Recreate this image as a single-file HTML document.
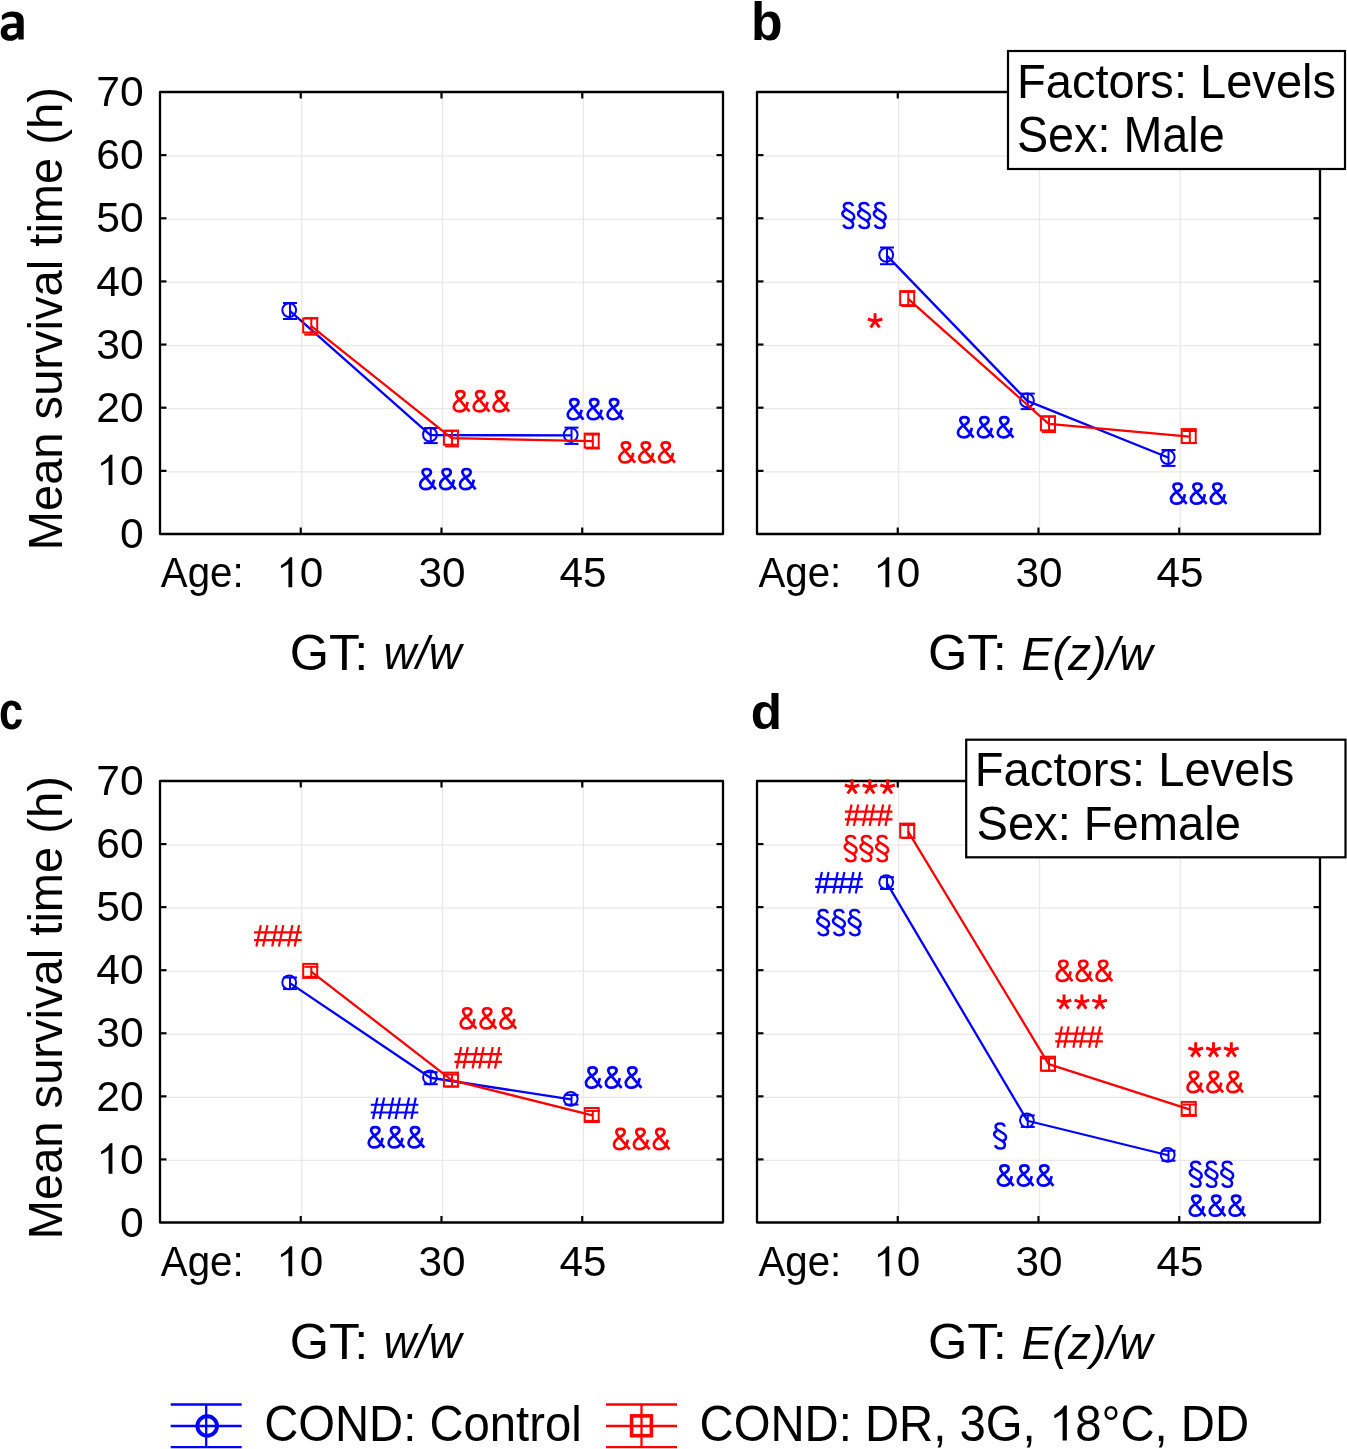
<!DOCTYPE html>
<html><head><meta charset="utf-8"><style>
html,body{margin:0;padding:0;background:#fff;}
svg{display:block;will-change:transform;}
text{font-family:"Liberation Sans", sans-serif;}
</style></head><body>
<svg width="1347" height="1449" viewBox="0 0 1347 1449">
<rect width="1347" height="1449" fill="#fff"/>
<line x1="301.75" y1="93.00" x2="301.75" y2="527.00" stroke="#e8e8e8" stroke-width="1.3" stroke-linecap="butt"/>
<line x1="442.50" y1="93.00" x2="442.50" y2="527.00" stroke="#e8e8e8" stroke-width="1.3" stroke-linecap="butt"/>
<line x1="583.25" y1="93.00" x2="583.25" y2="527.00" stroke="#e8e8e8" stroke-width="1.3" stroke-linecap="butt"/>
<line x1="167.00" y1="471.86" x2="716.00" y2="471.86" stroke="#e8e8e8" stroke-width="1.3" stroke-linecap="butt"/>
<line x1="167.00" y1="408.71" x2="716.00" y2="408.71" stroke="#e8e8e8" stroke-width="1.3" stroke-linecap="butt"/>
<line x1="167.00" y1="345.57" x2="716.00" y2="345.57" stroke="#e8e8e8" stroke-width="1.3" stroke-linecap="butt"/>
<line x1="167.00" y1="282.43" x2="716.00" y2="282.43" stroke="#e8e8e8" stroke-width="1.3" stroke-linecap="butt"/>
<line x1="167.00" y1="219.29" x2="716.00" y2="219.29" stroke="#e8e8e8" stroke-width="1.3" stroke-linecap="butt"/>
<line x1="167.00" y1="156.14" x2="716.00" y2="156.14" stroke="#e8e8e8" stroke-width="1.3" stroke-linecap="butt"/>
<line x1="300.75" y1="534.00" x2="300.75" y2="527.50" stroke="#000" stroke-width="2.2" stroke-linecap="butt"/>
<line x1="300.75" y1="92.00" x2="300.75" y2="98.50" stroke="#000" stroke-width="2.2" stroke-linecap="butt"/>
<line x1="441.50" y1="534.00" x2="441.50" y2="527.50" stroke="#000" stroke-width="2.2" stroke-linecap="butt"/>
<line x1="441.50" y1="92.00" x2="441.50" y2="98.50" stroke="#000" stroke-width="2.2" stroke-linecap="butt"/>
<line x1="582.25" y1="534.00" x2="582.25" y2="527.50" stroke="#000" stroke-width="2.2" stroke-linecap="butt"/>
<line x1="582.25" y1="92.00" x2="582.25" y2="98.50" stroke="#000" stroke-width="2.2" stroke-linecap="butt"/>
<line x1="160.00" y1="470.86" x2="166.50" y2="470.86" stroke="#000" stroke-width="2.2" stroke-linecap="butt"/>
<line x1="723.00" y1="470.86" x2="716.50" y2="470.86" stroke="#000" stroke-width="2.2" stroke-linecap="butt"/>
<line x1="160.00" y1="407.71" x2="166.50" y2="407.71" stroke="#000" stroke-width="2.2" stroke-linecap="butt"/>
<line x1="723.00" y1="407.71" x2="716.50" y2="407.71" stroke="#000" stroke-width="2.2" stroke-linecap="butt"/>
<line x1="160.00" y1="344.57" x2="166.50" y2="344.57" stroke="#000" stroke-width="2.2" stroke-linecap="butt"/>
<line x1="723.00" y1="344.57" x2="716.50" y2="344.57" stroke="#000" stroke-width="2.2" stroke-linecap="butt"/>
<line x1="160.00" y1="281.43" x2="166.50" y2="281.43" stroke="#000" stroke-width="2.2" stroke-linecap="butt"/>
<line x1="723.00" y1="281.43" x2="716.50" y2="281.43" stroke="#000" stroke-width="2.2" stroke-linecap="butt"/>
<line x1="160.00" y1="218.29" x2="166.50" y2="218.29" stroke="#000" stroke-width="2.2" stroke-linecap="butt"/>
<line x1="723.00" y1="218.29" x2="716.50" y2="218.29" stroke="#000" stroke-width="2.2" stroke-linecap="butt"/>
<line x1="160.00" y1="155.14" x2="166.50" y2="155.14" stroke="#000" stroke-width="2.2" stroke-linecap="butt"/>
<line x1="723.00" y1="155.14" x2="716.50" y2="155.14" stroke="#000" stroke-width="2.2" stroke-linecap="butt"/>
<rect x="160" y="92" width="563" height="442" fill="none" stroke="#000" stroke-width="2.3" stroke-linejoin="round"/>
<text transform="translate(119.96,548.20) scale(1.0000,1.0000)" font-size="42.60" fill="#000">0</text>
<g transform="translate(96.32,485.06) scale(1.0000,1.0000)" fill="#000"><path transform="translate(0.00,0) scale(42.600)" d="M0.378 -0.712 L0.378 0 L0.288 0 L0.288 -0.556 C0.250 -0.525 0.198 -0.492 0.130 -0.458 L0.112 -0.462 L0.112 -0.522 C0.186 -0.559 0.265 -0.619 0.323 -0.712 Z"/><text x="23.69" y="0" font-size="42.60">0</text></g>
<text transform="translate(96.32,421.91) scale(1.0000,1.0000)" font-size="42.60" fill="#000">20</text>
<text transform="translate(96.32,358.77) scale(1.0000,1.0000)" font-size="42.60" fill="#000">30</text>
<text transform="translate(96.32,295.63) scale(1.0000,1.0000)" font-size="42.60" fill="#000">40</text>
<text transform="translate(96.32,232.49) scale(1.0000,1.0000)" font-size="42.60" fill="#000">50</text>
<text transform="translate(96.32,169.34) scale(1.0000,1.0000)" font-size="42.60" fill="#000">60</text>
<text transform="translate(96.32,106.20) scale(1.0000,1.0000)" font-size="42.60" fill="#000">70</text>
<text transform="translate(160.80,586.61) scale(0.9509,1.0000)" font-size="42.33" fill="#000">Age:</text>
<g transform="translate(276.25,587.30) scale(1.0000,1.0000)" fill="#000"><path transform="translate(0.00,0) scale(42.300)" d="M0.378 -0.712 L0.378 0 L0.288 0 L0.288 -0.556 C0.250 -0.525 0.198 -0.492 0.130 -0.458 L0.112 -0.462 L0.112 -0.522 C0.186 -0.559 0.265 -0.619 0.323 -0.712 Z"/><text x="23.53" y="0" font-size="42.30">0</text></g>
<text transform="translate(418.52,587.30) scale(1.0000,1.0000)" font-size="42.30" fill="#000">30</text>
<text transform="translate(559.59,587.30) scale(1.0000,1.0000)" font-size="42.30" fill="#000">45</text>
<line x1="898.75" y1="93.00" x2="898.75" y2="527.00" stroke="#e8e8e8" stroke-width="1.3" stroke-linecap="butt"/>
<line x1="1039.50" y1="93.00" x2="1039.50" y2="527.00" stroke="#e8e8e8" stroke-width="1.3" stroke-linecap="butt"/>
<line x1="1180.25" y1="93.00" x2="1180.25" y2="527.00" stroke="#e8e8e8" stroke-width="1.3" stroke-linecap="butt"/>
<line x1="764.00" y1="471.86" x2="1313.00" y2="471.86" stroke="#e8e8e8" stroke-width="1.3" stroke-linecap="butt"/>
<line x1="764.00" y1="408.71" x2="1313.00" y2="408.71" stroke="#e8e8e8" stroke-width="1.3" stroke-linecap="butt"/>
<line x1="764.00" y1="345.57" x2="1313.00" y2="345.57" stroke="#e8e8e8" stroke-width="1.3" stroke-linecap="butt"/>
<line x1="764.00" y1="282.43" x2="1313.00" y2="282.43" stroke="#e8e8e8" stroke-width="1.3" stroke-linecap="butt"/>
<line x1="764.00" y1="219.29" x2="1313.00" y2="219.29" stroke="#e8e8e8" stroke-width="1.3" stroke-linecap="butt"/>
<line x1="764.00" y1="156.14" x2="1313.00" y2="156.14" stroke="#e8e8e8" stroke-width="1.3" stroke-linecap="butt"/>
<line x1="897.75" y1="534.00" x2="897.75" y2="527.50" stroke="#000" stroke-width="2.2" stroke-linecap="butt"/>
<line x1="897.75" y1="92.00" x2="897.75" y2="98.50" stroke="#000" stroke-width="2.2" stroke-linecap="butt"/>
<line x1="1038.50" y1="534.00" x2="1038.50" y2="527.50" stroke="#000" stroke-width="2.2" stroke-linecap="butt"/>
<line x1="1038.50" y1="92.00" x2="1038.50" y2="98.50" stroke="#000" stroke-width="2.2" stroke-linecap="butt"/>
<line x1="1179.25" y1="534.00" x2="1179.25" y2="527.50" stroke="#000" stroke-width="2.2" stroke-linecap="butt"/>
<line x1="1179.25" y1="92.00" x2="1179.25" y2="98.50" stroke="#000" stroke-width="2.2" stroke-linecap="butt"/>
<line x1="757.00" y1="470.86" x2="763.50" y2="470.86" stroke="#000" stroke-width="2.2" stroke-linecap="butt"/>
<line x1="1320.00" y1="470.86" x2="1313.50" y2="470.86" stroke="#000" stroke-width="2.2" stroke-linecap="butt"/>
<line x1="757.00" y1="407.71" x2="763.50" y2="407.71" stroke="#000" stroke-width="2.2" stroke-linecap="butt"/>
<line x1="1320.00" y1="407.71" x2="1313.50" y2="407.71" stroke="#000" stroke-width="2.2" stroke-linecap="butt"/>
<line x1="757.00" y1="344.57" x2="763.50" y2="344.57" stroke="#000" stroke-width="2.2" stroke-linecap="butt"/>
<line x1="1320.00" y1="344.57" x2="1313.50" y2="344.57" stroke="#000" stroke-width="2.2" stroke-linecap="butt"/>
<line x1="757.00" y1="281.43" x2="763.50" y2="281.43" stroke="#000" stroke-width="2.2" stroke-linecap="butt"/>
<line x1="1320.00" y1="281.43" x2="1313.50" y2="281.43" stroke="#000" stroke-width="2.2" stroke-linecap="butt"/>
<line x1="757.00" y1="218.29" x2="763.50" y2="218.29" stroke="#000" stroke-width="2.2" stroke-linecap="butt"/>
<line x1="1320.00" y1="218.29" x2="1313.50" y2="218.29" stroke="#000" stroke-width="2.2" stroke-linecap="butt"/>
<line x1="757.00" y1="155.14" x2="763.50" y2="155.14" stroke="#000" stroke-width="2.2" stroke-linecap="butt"/>
<line x1="1320.00" y1="155.14" x2="1313.50" y2="155.14" stroke="#000" stroke-width="2.2" stroke-linecap="butt"/>
<rect x="757" y="92" width="563" height="442" fill="none" stroke="#000" stroke-width="2.3" stroke-linejoin="round"/>
<text transform="translate(758.40,586.61) scale(0.9509,1.0000)" font-size="42.33" fill="#000">Age:</text>
<g transform="translate(873.25,587.30) scale(1.0000,1.0000)" fill="#000"><path transform="translate(0.00,0) scale(42.300)" d="M0.378 -0.712 L0.378 0 L0.288 0 L0.288 -0.556 C0.250 -0.525 0.198 -0.492 0.130 -0.458 L0.112 -0.462 L0.112 -0.522 C0.186 -0.559 0.265 -0.619 0.323 -0.712 Z"/><text x="23.53" y="0" font-size="42.30">0</text></g>
<text transform="translate(1015.52,587.30) scale(1.0000,1.0000)" font-size="42.30" fill="#000">30</text>
<text transform="translate(1156.59,587.30) scale(1.0000,1.0000)" font-size="42.30" fill="#000">45</text>
<line x1="301.75" y1="782.00" x2="301.75" y2="1215.50" stroke="#e8e8e8" stroke-width="1.3" stroke-linecap="butt"/>
<line x1="442.50" y1="782.00" x2="442.50" y2="1215.50" stroke="#e8e8e8" stroke-width="1.3" stroke-linecap="butt"/>
<line x1="583.25" y1="782.00" x2="583.25" y2="1215.50" stroke="#e8e8e8" stroke-width="1.3" stroke-linecap="butt"/>
<line x1="167.00" y1="1160.43" x2="716.00" y2="1160.43" stroke="#e8e8e8" stroke-width="1.3" stroke-linecap="butt"/>
<line x1="167.00" y1="1097.36" x2="716.00" y2="1097.36" stroke="#e8e8e8" stroke-width="1.3" stroke-linecap="butt"/>
<line x1="167.00" y1="1034.29" x2="716.00" y2="1034.29" stroke="#e8e8e8" stroke-width="1.3" stroke-linecap="butt"/>
<line x1="167.00" y1="971.21" x2="716.00" y2="971.21" stroke="#e8e8e8" stroke-width="1.3" stroke-linecap="butt"/>
<line x1="167.00" y1="908.14" x2="716.00" y2="908.14" stroke="#e8e8e8" stroke-width="1.3" stroke-linecap="butt"/>
<line x1="167.00" y1="845.07" x2="716.00" y2="845.07" stroke="#e8e8e8" stroke-width="1.3" stroke-linecap="butt"/>
<line x1="300.75" y1="1222.50" x2="300.75" y2="1216.00" stroke="#000" stroke-width="2.2" stroke-linecap="butt"/>
<line x1="300.75" y1="781.00" x2="300.75" y2="787.50" stroke="#000" stroke-width="2.2" stroke-linecap="butt"/>
<line x1="441.50" y1="1222.50" x2="441.50" y2="1216.00" stroke="#000" stroke-width="2.2" stroke-linecap="butt"/>
<line x1="441.50" y1="781.00" x2="441.50" y2="787.50" stroke="#000" stroke-width="2.2" stroke-linecap="butt"/>
<line x1="582.25" y1="1222.50" x2="582.25" y2="1216.00" stroke="#000" stroke-width="2.2" stroke-linecap="butt"/>
<line x1="582.25" y1="781.00" x2="582.25" y2="787.50" stroke="#000" stroke-width="2.2" stroke-linecap="butt"/>
<line x1="160.00" y1="1159.43" x2="166.50" y2="1159.43" stroke="#000" stroke-width="2.2" stroke-linecap="butt"/>
<line x1="723.00" y1="1159.43" x2="716.50" y2="1159.43" stroke="#000" stroke-width="2.2" stroke-linecap="butt"/>
<line x1="160.00" y1="1096.36" x2="166.50" y2="1096.36" stroke="#000" stroke-width="2.2" stroke-linecap="butt"/>
<line x1="723.00" y1="1096.36" x2="716.50" y2="1096.36" stroke="#000" stroke-width="2.2" stroke-linecap="butt"/>
<line x1="160.00" y1="1033.29" x2="166.50" y2="1033.29" stroke="#000" stroke-width="2.2" stroke-linecap="butt"/>
<line x1="723.00" y1="1033.29" x2="716.50" y2="1033.29" stroke="#000" stroke-width="2.2" stroke-linecap="butt"/>
<line x1="160.00" y1="970.21" x2="166.50" y2="970.21" stroke="#000" stroke-width="2.2" stroke-linecap="butt"/>
<line x1="723.00" y1="970.21" x2="716.50" y2="970.21" stroke="#000" stroke-width="2.2" stroke-linecap="butt"/>
<line x1="160.00" y1="907.14" x2="166.50" y2="907.14" stroke="#000" stroke-width="2.2" stroke-linecap="butt"/>
<line x1="723.00" y1="907.14" x2="716.50" y2="907.14" stroke="#000" stroke-width="2.2" stroke-linecap="butt"/>
<line x1="160.00" y1="844.07" x2="166.50" y2="844.07" stroke="#000" stroke-width="2.2" stroke-linecap="butt"/>
<line x1="723.00" y1="844.07" x2="716.50" y2="844.07" stroke="#000" stroke-width="2.2" stroke-linecap="butt"/>
<rect x="160" y="781" width="563" height="441.5" fill="none" stroke="#000" stroke-width="2.3" stroke-linejoin="round"/>
<text transform="translate(119.96,1236.70) scale(1.0000,1.0000)" font-size="42.60" fill="#000">0</text>
<g transform="translate(96.32,1173.63) scale(1.0000,1.0000)" fill="#000"><path transform="translate(0.00,0) scale(42.600)" d="M0.378 -0.712 L0.378 0 L0.288 0 L0.288 -0.556 C0.250 -0.525 0.198 -0.492 0.130 -0.458 L0.112 -0.462 L0.112 -0.522 C0.186 -0.559 0.265 -0.619 0.323 -0.712 Z"/><text x="23.69" y="0" font-size="42.60">0</text></g>
<text transform="translate(96.32,1110.56) scale(1.0000,1.0000)" font-size="42.60" fill="#000">20</text>
<text transform="translate(96.32,1047.49) scale(1.0000,1.0000)" font-size="42.60" fill="#000">30</text>
<text transform="translate(96.32,984.41) scale(1.0000,1.0000)" font-size="42.60" fill="#000">40</text>
<text transform="translate(96.32,921.34) scale(1.0000,1.0000)" font-size="42.60" fill="#000">50</text>
<text transform="translate(96.32,858.27) scale(1.0000,1.0000)" font-size="42.60" fill="#000">60</text>
<text transform="translate(96.32,795.20) scale(1.0000,1.0000)" font-size="42.60" fill="#000">70</text>
<text transform="translate(160.80,1275.61) scale(0.9509,1.0000)" font-size="42.33" fill="#000">Age:</text>
<g transform="translate(276.25,1276.30) scale(1.0000,1.0000)" fill="#000"><path transform="translate(0.00,0) scale(42.300)" d="M0.378 -0.712 L0.378 0 L0.288 0 L0.288 -0.556 C0.250 -0.525 0.198 -0.492 0.130 -0.458 L0.112 -0.462 L0.112 -0.522 C0.186 -0.559 0.265 -0.619 0.323 -0.712 Z"/><text x="23.53" y="0" font-size="42.30">0</text></g>
<text transform="translate(418.52,1276.30) scale(1.0000,1.0000)" font-size="42.30" fill="#000">30</text>
<text transform="translate(559.59,1276.30) scale(1.0000,1.0000)" font-size="42.30" fill="#000">45</text>
<line x1="898.75" y1="782.00" x2="898.75" y2="1215.50" stroke="#e8e8e8" stroke-width="1.3" stroke-linecap="butt"/>
<line x1="1039.50" y1="782.00" x2="1039.50" y2="1215.50" stroke="#e8e8e8" stroke-width="1.3" stroke-linecap="butt"/>
<line x1="1180.25" y1="782.00" x2="1180.25" y2="1215.50" stroke="#e8e8e8" stroke-width="1.3" stroke-linecap="butt"/>
<line x1="764.00" y1="1160.43" x2="1313.00" y2="1160.43" stroke="#e8e8e8" stroke-width="1.3" stroke-linecap="butt"/>
<line x1="764.00" y1="1097.36" x2="1313.00" y2="1097.36" stroke="#e8e8e8" stroke-width="1.3" stroke-linecap="butt"/>
<line x1="764.00" y1="1034.29" x2="1313.00" y2="1034.29" stroke="#e8e8e8" stroke-width="1.3" stroke-linecap="butt"/>
<line x1="764.00" y1="971.21" x2="1313.00" y2="971.21" stroke="#e8e8e8" stroke-width="1.3" stroke-linecap="butt"/>
<line x1="764.00" y1="908.14" x2="1313.00" y2="908.14" stroke="#e8e8e8" stroke-width="1.3" stroke-linecap="butt"/>
<line x1="764.00" y1="845.07" x2="1313.00" y2="845.07" stroke="#e8e8e8" stroke-width="1.3" stroke-linecap="butt"/>
<line x1="897.75" y1="1222.50" x2="897.75" y2="1216.00" stroke="#000" stroke-width="2.2" stroke-linecap="butt"/>
<line x1="897.75" y1="781.00" x2="897.75" y2="787.50" stroke="#000" stroke-width="2.2" stroke-linecap="butt"/>
<line x1="1038.50" y1="1222.50" x2="1038.50" y2="1216.00" stroke="#000" stroke-width="2.2" stroke-linecap="butt"/>
<line x1="1038.50" y1="781.00" x2="1038.50" y2="787.50" stroke="#000" stroke-width="2.2" stroke-linecap="butt"/>
<line x1="1179.25" y1="1222.50" x2="1179.25" y2="1216.00" stroke="#000" stroke-width="2.2" stroke-linecap="butt"/>
<line x1="1179.25" y1="781.00" x2="1179.25" y2="787.50" stroke="#000" stroke-width="2.2" stroke-linecap="butt"/>
<line x1="757.00" y1="1159.43" x2="763.50" y2="1159.43" stroke="#000" stroke-width="2.2" stroke-linecap="butt"/>
<line x1="1320.00" y1="1159.43" x2="1313.50" y2="1159.43" stroke="#000" stroke-width="2.2" stroke-linecap="butt"/>
<line x1="757.00" y1="1096.36" x2="763.50" y2="1096.36" stroke="#000" stroke-width="2.2" stroke-linecap="butt"/>
<line x1="1320.00" y1="1096.36" x2="1313.50" y2="1096.36" stroke="#000" stroke-width="2.2" stroke-linecap="butt"/>
<line x1="757.00" y1="1033.29" x2="763.50" y2="1033.29" stroke="#000" stroke-width="2.2" stroke-linecap="butt"/>
<line x1="1320.00" y1="1033.29" x2="1313.50" y2="1033.29" stroke="#000" stroke-width="2.2" stroke-linecap="butt"/>
<line x1="757.00" y1="970.21" x2="763.50" y2="970.21" stroke="#000" stroke-width="2.2" stroke-linecap="butt"/>
<line x1="1320.00" y1="970.21" x2="1313.50" y2="970.21" stroke="#000" stroke-width="2.2" stroke-linecap="butt"/>
<line x1="757.00" y1="907.14" x2="763.50" y2="907.14" stroke="#000" stroke-width="2.2" stroke-linecap="butt"/>
<line x1="1320.00" y1="907.14" x2="1313.50" y2="907.14" stroke="#000" stroke-width="2.2" stroke-linecap="butt"/>
<line x1="757.00" y1="844.07" x2="763.50" y2="844.07" stroke="#000" stroke-width="2.2" stroke-linecap="butt"/>
<line x1="1320.00" y1="844.07" x2="1313.50" y2="844.07" stroke="#000" stroke-width="2.2" stroke-linecap="butt"/>
<rect x="757" y="781" width="563" height="441.5" fill="none" stroke="#000" stroke-width="2.3" stroke-linejoin="round"/>
<text transform="translate(758.40,1275.61) scale(0.9509,1.0000)" font-size="42.33" fill="#000">Age:</text>
<g transform="translate(873.25,1276.30) scale(1.0000,1.0000)" fill="#000"><path transform="translate(0.00,0) scale(42.300)" d="M0.378 -0.712 L0.378 0 L0.288 0 L0.288 -0.556 C0.250 -0.525 0.198 -0.492 0.130 -0.458 L0.112 -0.462 L0.112 -0.522 C0.186 -0.559 0.265 -0.619 0.323 -0.712 Z"/><text x="23.53" y="0" font-size="42.30">0</text></g>
<text transform="translate(1015.52,1276.30) scale(1.0000,1.0000)" font-size="42.30" fill="#000">30</text>
<text transform="translate(1156.59,1276.30) scale(1.0000,1.0000)" font-size="42.30" fill="#000">45</text>
<path fill="#000" fill-rule="evenodd" d="M2.1 15.3 C4.5 13.0 8.2 11.5 12.4 11.5 C19.5 11.5 23.7 14.3 23.7 20.2 L23.7 39.5 L18.4 39.5 L18.2 36.9 C16.5 39.3 13.8 40.8 10.2 40.8 C4.4 40.8 0.7 37.6 0.7 32.4 C0.7 26.5 5.6 23.6 12.9 23.6 L16.6 23.6 L16.6 21.2 C16.6 18.2 14.6 16.8 11.1 16.8 C8.1 16.8 5.6 17.8 3.6 19.6 C2.6 20.4 1.9 19.6 1.8 17.8 C1.8 16.6 1.9 15.8 2.1 15.3 Z M16.7 27.9 L12.9 27.9 C9.1 27.9 7.2 29.4 7.2 31.9 C7.2 34.3 8.8 35.6 11.0 35.6 C13.3 35.6 15.3 34.5 16.7 32.8 Z"/>
<text transform="translate(750.94,40.46) scale(0.9545,1.0000)" font-size="54.15" font-weight="bold" fill="#000">b</text>
<text transform="translate(-1.04,728.87) scale(0.8139,1.0000)" font-size="53.45" font-weight="bold" fill="#000">c</text>
<text transform="translate(750.85,728.51) scale(1.0442,1.0000)" font-size="49.12" font-weight="bold" fill="#000">d</text>
<text transform="translate(61.9,550.27) rotate(-90) scale(1,1.0370)" font-size="47.10" fill="#000">Mean survival time (h)</text>
<text transform="translate(61.9,1239.27) rotate(-90) scale(1,1.0370)" font-size="47.10" fill="#000">Mean survival time (h)</text>
<text transform="translate(289.77,669.80) scale(1.0285,1.0000)" font-size="49.13" fill="#000">GT:</text>
<text transform="translate(383.43,669.24) scale(0.9913,1.0000)" font-size="45.85" font-style="italic" fill="#000">w/w</text>
<text transform="translate(927.97,669.80) scale(1.0314,1.0000)" font-size="49.13" fill="#000">GT:</text>
<text transform="translate(1021.61,669.57) scale(0.9999,1.0000)" font-size="46.31" font-style="italic" fill="#000">E(z)/w</text>
<text transform="translate(289.77,1358.80) scale(1.0285,1.0000)" font-size="49.13" fill="#000">GT:</text>
<text transform="translate(383.43,1358.24) scale(0.9913,1.0000)" font-size="45.85" font-style="italic" fill="#000">w/w</text>
<text transform="translate(927.97,1358.80) scale(1.0314,1.0000)" font-size="49.13" fill="#000">GT:</text>
<text transform="translate(1021.61,1358.57) scale(0.9999,1.0000)" font-size="46.31" font-style="italic" fill="#000">E(z)/w</text>
<polyline points="289.60,310.55 430.35,435.15 571.10,435.30" fill="none" stroke="#0000ff" stroke-width="2.3" stroke-linejoin="round"/>
<g stroke="#0000ff" stroke-width="2" fill="none"><line x1="290.00" y1="303.00" x2="290.00" y2="319.00"/><line x1="283.00" y1="303.00" x2="297.00" y2="303.00"/><line x1="283.00" y1="319.00" x2="297.00" y2="319.00"/><circle cx="289.20" cy="310.10" r="6.9"/></g>
<g stroke="#0000ff" stroke-width="2" fill="none"><line x1="430.75" y1="428.10" x2="430.75" y2="443.10"/><line x1="423.75" y1="428.10" x2="437.75" y2="428.10"/><line x1="423.75" y1="443.10" x2="437.75" y2="443.10"/><circle cx="429.95" cy="434.70" r="6.9"/></g>
<g stroke="#0000ff" stroke-width="2" fill="none"><line x1="571.50" y1="427.60" x2="571.50" y2="443.90"/><line x1="564.50" y1="427.60" x2="578.50" y2="427.60"/><line x1="564.50" y1="443.90" x2="578.50" y2="443.90"/><circle cx="570.70" cy="434.85" r="6.9"/></g>
<polyline points="310.90,325.95 451.65,438.15 592.40,441.05" fill="none" stroke="#ff0000" stroke-width="2.3" stroke-linejoin="round"/>
<g stroke="#ff0000" stroke-width="2" fill="none"><line x1="311.30" y1="318.10" x2="311.30" y2="334.70"/><line x1="304.30" y1="318.10" x2="318.30" y2="318.10"/><line x1="304.30" y1="334.70" x2="318.30" y2="334.70"/><rect x="303.20" y="318.50" width="14.0" height="14.0"/></g>
<g stroke="#ff0000" stroke-width="2" fill="none"><line x1="452.05" y1="430.80" x2="452.05" y2="446.40"/><line x1="445.05" y1="430.80" x2="459.05" y2="430.80"/><line x1="445.05" y1="446.40" x2="459.05" y2="446.40"/><rect x="443.95" y="430.70" width="14.0" height="14.0"/></g>
<g stroke="#ff0000" stroke-width="2" fill="none"><line x1="592.80" y1="434.50" x2="592.80" y2="448.50"/><line x1="585.80" y1="434.50" x2="599.80" y2="434.50"/><line x1="585.80" y1="448.50" x2="599.80" y2="448.50"/><rect x="584.70" y="433.60" width="14.0" height="14.0"/></g>
<polyline points="886.60,255.40 1027.35,400.90 1168.10,457.50" fill="none" stroke="#0000ff" stroke-width="2.3" stroke-linejoin="round"/>
<g stroke="#0000ff" stroke-width="2" fill="none"><line x1="887.00" y1="247.50" x2="887.00" y2="264.20"/><line x1="880.00" y1="247.50" x2="894.00" y2="247.50"/><line x1="880.00" y1="264.20" x2="894.00" y2="264.20"/><circle cx="886.20" cy="254.95" r="6.9"/></g>
<g stroke="#0000ff" stroke-width="2" fill="none"><line x1="1027.75" y1="393.60" x2="1027.75" y2="409.10"/><line x1="1020.75" y1="393.60" x2="1034.75" y2="393.60"/><line x1="1020.75" y1="409.10" x2="1034.75" y2="409.10"/><circle cx="1026.95" cy="400.45" r="6.9"/></g>
<g stroke="#0000ff" stroke-width="2" fill="none"><line x1="1168.50" y1="450.00" x2="1168.50" y2="465.90"/><line x1="1161.50" y1="450.00" x2="1175.50" y2="450.00"/><line x1="1161.50" y1="465.90" x2="1175.50" y2="465.90"/><circle cx="1167.70" cy="457.05" r="6.9"/></g>
<polyline points="907.90,298.55 1048.65,423.85 1189.40,436.55" fill="none" stroke="#ff0000" stroke-width="2.3" stroke-linejoin="round"/>
<g stroke="#ff0000" stroke-width="2" fill="none"><line x1="908.30" y1="292.00" x2="908.30" y2="306.00"/><line x1="901.30" y1="292.00" x2="915.30" y2="292.00"/><line x1="901.30" y1="306.00" x2="915.30" y2="306.00"/><rect x="900.20" y="291.10" width="14.0" height="14.0"/></g>
<g stroke="#ff0000" stroke-width="2" fill="none"><line x1="1049.05" y1="416.50" x2="1049.05" y2="432.10"/><line x1="1042.05" y1="416.50" x2="1056.05" y2="416.50"/><line x1="1042.05" y1="432.10" x2="1056.05" y2="432.10"/><rect x="1040.95" y="416.40" width="14.0" height="14.0"/></g>
<g stroke="#ff0000" stroke-width="2" fill="none"><line x1="1189.80" y1="431.00" x2="1189.80" y2="443.00"/><line x1="1182.80" y1="431.00" x2="1196.80" y2="431.00"/><line x1="1182.80" y1="443.00" x2="1196.80" y2="443.00"/><rect x="1181.70" y="429.10" width="14.0" height="14.0"/></g>
<polyline points="289.60,982.85 430.35,1077.75 571.10,1099.35" fill="none" stroke="#0000ff" stroke-width="2.3" stroke-linejoin="round"/>
<g stroke="#0000ff" stroke-width="2" fill="none"><line x1="290.00" y1="977.50" x2="290.00" y2="989.10"/><line x1="283.00" y1="977.50" x2="297.00" y2="977.50"/><line x1="283.00" y1="989.10" x2="297.00" y2="989.10"/><circle cx="289.20" cy="982.40" r="6.9"/></g>
<g stroke="#0000ff" stroke-width="2" fill="none"><line x1="430.75" y1="1072.20" x2="430.75" y2="1084.20"/><line x1="423.75" y1="1072.20" x2="437.75" y2="1072.20"/><line x1="423.75" y1="1084.20" x2="437.75" y2="1084.20"/><circle cx="429.95" cy="1077.30" r="6.9"/></g>
<g stroke="#0000ff" stroke-width="2" fill="none"><line x1="571.50" y1="1095.05" x2="571.50" y2="1104.55"/><line x1="564.50" y1="1095.05" x2="578.50" y2="1095.05"/><line x1="564.50" y1="1104.55" x2="578.50" y2="1104.55"/><circle cx="570.70" cy="1098.90" r="6.9"/></g>
<polyline points="310.90,971.35 451.65,1080.05 592.40,1115.45" fill="none" stroke="#ff0000" stroke-width="2.3" stroke-linejoin="round"/>
<g stroke="#ff0000" stroke-width="2" fill="none"><line x1="311.30" y1="966.80" x2="311.30" y2="976.80"/><line x1="304.30" y1="966.80" x2="318.30" y2="966.80"/><line x1="304.30" y1="976.80" x2="318.30" y2="976.80"/><rect x="303.20" y="963.90" width="14.0" height="14.0"/></g>
<g stroke="#ff0000" stroke-width="2" fill="none"><line x1="452.05" y1="1074.50" x2="452.05" y2="1086.50"/><line x1="445.05" y1="1074.50" x2="459.05" y2="1074.50"/><line x1="445.05" y1="1086.50" x2="459.05" y2="1086.50"/><rect x="443.95" y="1072.60" width="14.0" height="14.0"/></g>
<g stroke="#ff0000" stroke-width="2" fill="none"><line x1="592.80" y1="1110.90" x2="592.80" y2="1120.90"/><line x1="585.80" y1="1110.90" x2="599.80" y2="1110.90"/><line x1="585.80" y1="1120.90" x2="599.80" y2="1120.90"/><rect x="584.70" y="1108.00" width="14.0" height="14.0"/></g>
<polyline points="886.60,882.65 1027.35,1120.75 1168.10,1155.25" fill="none" stroke="#0000ff" stroke-width="2.3" stroke-linejoin="round"/>
<g stroke="#0000ff" stroke-width="2" fill="none"><line x1="887.00" y1="877.20" x2="887.00" y2="889.00"/><line x1="880.00" y1="877.20" x2="894.00" y2="877.20"/><line x1="880.00" y1="889.00" x2="894.00" y2="889.00"/><circle cx="886.20" cy="882.20" r="6.9"/></g>
<g stroke="#0000ff" stroke-width="2" fill="none"><line x1="1027.75" y1="1115.45" x2="1027.75" y2="1126.95"/><line x1="1020.75" y1="1115.45" x2="1034.75" y2="1115.45"/><line x1="1020.75" y1="1126.95" x2="1034.75" y2="1126.95"/><circle cx="1026.95" cy="1120.30" r="6.9"/></g>
<g stroke="#0000ff" stroke-width="2" fill="none"><line x1="1168.50" y1="1150.70" x2="1168.50" y2="1160.70"/><line x1="1161.50" y1="1150.70" x2="1175.50" y2="1150.70"/><line x1="1161.50" y1="1160.70" x2="1175.50" y2="1160.70"/><circle cx="1167.70" cy="1154.80" r="6.9"/></g>
<polyline points="907.90,831.05 1048.65,1064.15 1189.40,1109.35" fill="none" stroke="#ff0000" stroke-width="2.3" stroke-linejoin="round"/>
<g stroke="#ff0000" stroke-width="2" fill="none"><line x1="908.30" y1="825.00" x2="908.30" y2="838.00"/><line x1="901.30" y1="825.00" x2="915.30" y2="825.00"/><line x1="901.30" y1="838.00" x2="915.30" y2="838.00"/><rect x="900.20" y="823.60" width="14.0" height="14.0"/></g>
<g stroke="#ff0000" stroke-width="2" fill="none"><line x1="1049.05" y1="1058.40" x2="1049.05" y2="1070.80"/><line x1="1042.05" y1="1058.40" x2="1056.05" y2="1058.40"/><line x1="1042.05" y1="1070.80" x2="1056.05" y2="1070.80"/><rect x="1040.95" y="1056.70" width="14.0" height="14.0"/></g>
<g stroke="#ff0000" stroke-width="2" fill="none"><line x1="1189.80" y1="1104.60" x2="1189.80" y2="1115.00"/><line x1="1182.80" y1="1104.60" x2="1196.80" y2="1104.60"/><line x1="1182.80" y1="1115.00" x2="1196.80" y2="1115.00"/><rect x="1181.70" y="1101.90" width="14.0" height="14.0"/></g>
<g transform="translate(451.88,387.33)" fill="none" stroke="#ff0000" stroke-width="2.7" stroke-linejoin="round"><path transform="translate(0.00,0)" d="M17.6 24.3 L7.6 12.4 C5.4 10.0 4.3 8.7 4.3 6.9 C4.3 4.9 6.0 3.85 8.45 3.85 C10.9 3.85 12.6 5.0 12.6 7.0 C12.6 9.1 10.7 10.6 8.3 11.9 C4.6 14.0 1.9 16.3 1.9 19.3 C1.9 22.2 4.3 24.0 7.6 24.0 C10.4 24.0 12.8 22.6 14.2 20.4 L15.8 14.5"/><path transform="translate(19.90,0)" d="M17.6 24.3 L7.6 12.4 C5.4 10.0 4.3 8.7 4.3 6.9 C4.3 4.9 6.0 3.85 8.45 3.85 C10.9 3.85 12.6 5.0 12.6 7.0 C12.6 9.1 10.7 10.6 8.3 11.9 C4.6 14.0 1.9 16.3 1.9 19.3 C1.9 22.2 4.3 24.0 7.6 24.0 C10.4 24.0 12.8 22.6 14.2 20.4 L15.8 14.5"/><path transform="translate(39.80,0)" d="M17.6 24.3 L7.6 12.4 C5.4 10.0 4.3 8.7 4.3 6.9 C4.3 4.9 6.0 3.85 8.45 3.85 C10.9 3.85 12.6 5.0 12.6 7.0 C12.6 9.1 10.7 10.6 8.3 11.9 C4.6 14.0 1.9 16.3 1.9 19.3 C1.9 22.2 4.3 24.0 7.6 24.0 C10.4 24.0 12.8 22.6 14.2 20.4 L15.8 14.5"/></g>
<g transform="translate(565.83,395.23)" fill="none" stroke="#0000ff" stroke-width="2.7" stroke-linejoin="round"><path transform="translate(0.00,0)" d="M17.6 24.3 L7.6 12.4 C5.4 10.0 4.3 8.7 4.3 6.9 C4.3 4.9 6.0 3.85 8.45 3.85 C10.9 3.85 12.6 5.0 12.6 7.0 C12.6 9.1 10.7 10.6 8.3 11.9 C4.6 14.0 1.9 16.3 1.9 19.3 C1.9 22.2 4.3 24.0 7.6 24.0 C10.4 24.0 12.8 22.6 14.2 20.4 L15.8 14.5"/><path transform="translate(19.90,0)" d="M17.6 24.3 L7.6 12.4 C5.4 10.0 4.3 8.7 4.3 6.9 C4.3 4.9 6.0 3.85 8.45 3.85 C10.9 3.85 12.6 5.0 12.6 7.0 C12.6 9.1 10.7 10.6 8.3 11.9 C4.6 14.0 1.9 16.3 1.9 19.3 C1.9 22.2 4.3 24.0 7.6 24.0 C10.4 24.0 12.8 22.6 14.2 20.4 L15.8 14.5"/><path transform="translate(39.80,0)" d="M17.6 24.3 L7.6 12.4 C5.4 10.0 4.3 8.7 4.3 6.9 C4.3 4.9 6.0 3.85 8.45 3.85 C10.9 3.85 12.6 5.0 12.6 7.0 C12.6 9.1 10.7 10.6 8.3 11.9 C4.6 14.0 1.9 16.3 1.9 19.3 C1.9 22.2 4.3 24.0 7.6 24.0 C10.4 24.0 12.8 22.6 14.2 20.4 L15.8 14.5"/></g>
<g transform="translate(418.27,465.13)" fill="none" stroke="#0000ff" stroke-width="2.7" stroke-linejoin="round"><path transform="translate(0.00,0)" d="M17.6 24.3 L7.6 12.4 C5.4 10.0 4.3 8.7 4.3 6.9 C4.3 4.9 6.0 3.85 8.45 3.85 C10.9 3.85 12.6 5.0 12.6 7.0 C12.6 9.1 10.7 10.6 8.3 11.9 C4.6 14.0 1.9 16.3 1.9 19.3 C1.9 22.2 4.3 24.0 7.6 24.0 C10.4 24.0 12.8 22.6 14.2 20.4 L15.8 14.5"/><path transform="translate(19.90,0)" d="M17.6 24.3 L7.6 12.4 C5.4 10.0 4.3 8.7 4.3 6.9 C4.3 4.9 6.0 3.85 8.45 3.85 C10.9 3.85 12.6 5.0 12.6 7.0 C12.6 9.1 10.7 10.6 8.3 11.9 C4.6 14.0 1.9 16.3 1.9 19.3 C1.9 22.2 4.3 24.0 7.6 24.0 C10.4 24.0 12.8 22.6 14.2 20.4 L15.8 14.5"/><path transform="translate(39.80,0)" d="M17.6 24.3 L7.6 12.4 C5.4 10.0 4.3 8.7 4.3 6.9 C4.3 4.9 6.0 3.85 8.45 3.85 C10.9 3.85 12.6 5.0 12.6 7.0 C12.6 9.1 10.7 10.6 8.3 11.9 C4.6 14.0 1.9 16.3 1.9 19.3 C1.9 22.2 4.3 24.0 7.6 24.0 C10.4 24.0 12.8 22.6 14.2 20.4 L15.8 14.5"/></g>
<g transform="translate(617.48,438.43)" fill="none" stroke="#ff0000" stroke-width="2.7" stroke-linejoin="round"><path transform="translate(0.00,0)" d="M17.6 24.3 L7.6 12.4 C5.4 10.0 4.3 8.7 4.3 6.9 C4.3 4.9 6.0 3.85 8.45 3.85 C10.9 3.85 12.6 5.0 12.6 7.0 C12.6 9.1 10.7 10.6 8.3 11.9 C4.6 14.0 1.9 16.3 1.9 19.3 C1.9 22.2 4.3 24.0 7.6 24.0 C10.4 24.0 12.8 22.6 14.2 20.4 L15.8 14.5"/><path transform="translate(19.90,0)" d="M17.6 24.3 L7.6 12.4 C5.4 10.0 4.3 8.7 4.3 6.9 C4.3 4.9 6.0 3.85 8.45 3.85 C10.9 3.85 12.6 5.0 12.6 7.0 C12.6 9.1 10.7 10.6 8.3 11.9 C4.6 14.0 1.9 16.3 1.9 19.3 C1.9 22.2 4.3 24.0 7.6 24.0 C10.4 24.0 12.8 22.6 14.2 20.4 L15.8 14.5"/><path transform="translate(39.80,0)" d="M17.6 24.3 L7.6 12.4 C5.4 10.0 4.3 8.7 4.3 6.9 C4.3 4.9 6.0 3.85 8.45 3.85 C10.9 3.85 12.6 5.0 12.6 7.0 C12.6 9.1 10.7 10.6 8.3 11.9 C4.6 14.0 1.9 16.3 1.9 19.3 C1.9 22.2 4.3 24.0 7.6 24.0 C10.4 24.0 12.8 22.6 14.2 20.4 L15.8 14.5"/></g>
<g transform="translate(840.25,200.35)" fill="none" stroke="#0000ff" stroke-width="2.5"><path transform="translate(0.00,0)" d="M12.6 5.8 C12.2 3.6 10.4 2.6 8.1 2.6 C5.4 2.6 3.6 4.0 3.6 6.0 C3.6 7.6 4.8 8.6 6.6 9.6 L11.6 12.6 C13.3 13.6 14.0 14.8 14.0 16.3 C14.0 18.0 12.8 19.3 11.2 19.9 M5.0 9.9 C3.1 10.8 2.1 12.0 2.1 13.5 C2.1 15.0 3.3 16.2 5.4 17.4 L10.0 20.1 C12.0 21.3 12.9 22.4 12.9 24.1 C12.9 26.4 10.9 27.7 8.3 27.7 C5.6 27.7 3.8 26.5 3.2 24.3"/><path transform="translate(15.75,0)" d="M12.6 5.8 C12.2 3.6 10.4 2.6 8.1 2.6 C5.4 2.6 3.6 4.0 3.6 6.0 C3.6 7.6 4.8 8.6 6.6 9.6 L11.6 12.6 C13.3 13.6 14.0 14.8 14.0 16.3 C14.0 18.0 12.8 19.3 11.2 19.9 M5.0 9.9 C3.1 10.8 2.1 12.0 2.1 13.5 C2.1 15.0 3.3 16.2 5.4 17.4 L10.0 20.1 C12.0 21.3 12.9 22.4 12.9 24.1 C12.9 26.4 10.9 27.7 8.3 27.7 C5.6 27.7 3.8 26.5 3.2 24.3"/><path transform="translate(31.50,0)" d="M12.6 5.8 C12.2 3.6 10.4 2.6 8.1 2.6 C5.4 2.6 3.6 4.0 3.6 6.0 C3.6 7.6 4.8 8.6 6.6 9.6 L11.6 12.6 C13.3 13.6 14.0 14.8 14.0 16.3 C14.0 18.0 12.8 19.3 11.2 19.9 M5.0 9.9 C3.1 10.8 2.1 12.0 2.1 13.5 C2.1 15.0 3.3 16.2 5.4 17.4 L10.0 20.1 C12.0 21.3 12.9 22.4 12.9 24.1 C12.9 26.4 10.9 27.7 8.3 27.7 C5.6 27.7 3.8 26.5 3.2 24.3"/></g>
<path d="M875.05 321.21 l0 -7.9 M875.05 321.21 l-7.3 -2.25 M875.05 321.21 l7.3 -2.25 M875.05 321.21 l-4.4 6.3 M875.05 321.21 l4.4 6.3 " fill="none" stroke="#ff0000" stroke-width="3.0" stroke-linecap="butt"/>
<g transform="translate(956.03,413.28)" fill="none" stroke="#0000ff" stroke-width="2.7" stroke-linejoin="round"><path transform="translate(0.00,0)" d="M17.6 24.3 L7.6 12.4 C5.4 10.0 4.3 8.7 4.3 6.9 C4.3 4.9 6.0 3.85 8.45 3.85 C10.9 3.85 12.6 5.0 12.6 7.0 C12.6 9.1 10.7 10.6 8.3 11.9 C4.6 14.0 1.9 16.3 1.9 19.3 C1.9 22.2 4.3 24.0 7.6 24.0 C10.4 24.0 12.8 22.6 14.2 20.4 L15.8 14.5"/><path transform="translate(19.90,0)" d="M17.6 24.3 L7.6 12.4 C5.4 10.0 4.3 8.7 4.3 6.9 C4.3 4.9 6.0 3.85 8.45 3.85 C10.9 3.85 12.6 5.0 12.6 7.0 C12.6 9.1 10.7 10.6 8.3 11.9 C4.6 14.0 1.9 16.3 1.9 19.3 C1.9 22.2 4.3 24.0 7.6 24.0 C10.4 24.0 12.8 22.6 14.2 20.4 L15.8 14.5"/><path transform="translate(39.80,0)" d="M17.6 24.3 L7.6 12.4 C5.4 10.0 4.3 8.7 4.3 6.9 C4.3 4.9 6.0 3.85 8.45 3.85 C10.9 3.85 12.6 5.0 12.6 7.0 C12.6 9.1 10.7 10.6 8.3 11.9 C4.6 14.0 1.9 16.3 1.9 19.3 C1.9 22.2 4.3 24.0 7.6 24.0 C10.4 24.0 12.8 22.6 14.2 20.4 L15.8 14.5"/></g>
<g transform="translate(1169.12,479.63)" fill="none" stroke="#0000ff" stroke-width="2.7" stroke-linejoin="round"><path transform="translate(0.00,0)" d="M17.6 24.3 L7.6 12.4 C5.4 10.0 4.3 8.7 4.3 6.9 C4.3 4.9 6.0 3.85 8.45 3.85 C10.9 3.85 12.6 5.0 12.6 7.0 C12.6 9.1 10.7 10.6 8.3 11.9 C4.6 14.0 1.9 16.3 1.9 19.3 C1.9 22.2 4.3 24.0 7.6 24.0 C10.4 24.0 12.8 22.6 14.2 20.4 L15.8 14.5"/><path transform="translate(19.90,0)" d="M17.6 24.3 L7.6 12.4 C5.4 10.0 4.3 8.7 4.3 6.9 C4.3 4.9 6.0 3.85 8.45 3.85 C10.9 3.85 12.6 5.0 12.6 7.0 C12.6 9.1 10.7 10.6 8.3 11.9 C4.6 14.0 1.9 16.3 1.9 19.3 C1.9 22.2 4.3 24.0 7.6 24.0 C10.4 24.0 12.8 22.6 14.2 20.4 L15.8 14.5"/><path transform="translate(39.80,0)" d="M17.6 24.3 L7.6 12.4 C5.4 10.0 4.3 8.7 4.3 6.9 C4.3 4.9 6.0 3.85 8.45 3.85 C10.9 3.85 12.6 5.0 12.6 7.0 C12.6 9.1 10.7 10.6 8.3 11.9 C4.6 14.0 1.9 16.3 1.9 19.3 C1.9 22.2 4.3 24.0 7.6 24.0 C10.4 24.0 12.8 22.6 14.2 20.4 L15.8 14.5"/></g>
<g transform="translate(254.10,925.15)" fill="none" stroke="#ff0000" stroke-width="2.2"><path d="M0 7.15 H47.6 M0 14.9 H47.6"/><path d="M6.70 0 L2.30 21.4 M13.40 0 L9.00 21.4 M22.50 0 L18.10 21.4 M29.20 0 L24.80 21.4 M38.30 0 L33.90 21.4 M45.00 0 L40.60 21.4 "/></g>
<g transform="translate(458.77,1004.38)" fill="none" stroke="#ff0000" stroke-width="2.7" stroke-linejoin="round"><path transform="translate(0.00,0)" d="M17.6 24.3 L7.6 12.4 C5.4 10.0 4.3 8.7 4.3 6.9 C4.3 4.9 6.0 3.85 8.45 3.85 C10.9 3.85 12.6 5.0 12.6 7.0 C12.6 9.1 10.7 10.6 8.3 11.9 C4.6 14.0 1.9 16.3 1.9 19.3 C1.9 22.2 4.3 24.0 7.6 24.0 C10.4 24.0 12.8 22.6 14.2 20.4 L15.8 14.5"/><path transform="translate(19.90,0)" d="M17.6 24.3 L7.6 12.4 C5.4 10.0 4.3 8.7 4.3 6.9 C4.3 4.9 6.0 3.85 8.45 3.85 C10.9 3.85 12.6 5.0 12.6 7.0 C12.6 9.1 10.7 10.6 8.3 11.9 C4.6 14.0 1.9 16.3 1.9 19.3 C1.9 22.2 4.3 24.0 7.6 24.0 C10.4 24.0 12.8 22.6 14.2 20.4 L15.8 14.5"/><path transform="translate(39.80,0)" d="M17.6 24.3 L7.6 12.4 C5.4 10.0 4.3 8.7 4.3 6.9 C4.3 4.9 6.0 3.85 8.45 3.85 C10.9 3.85 12.6 5.0 12.6 7.0 C12.6 9.1 10.7 10.6 8.3 11.9 C4.6 14.0 1.9 16.3 1.9 19.3 C1.9 22.2 4.3 24.0 7.6 24.0 C10.4 24.0 12.8 22.6 14.2 20.4 L15.8 14.5"/></g>
<g transform="translate(454.45,1047.05)" fill="none" stroke="#ff0000" stroke-width="2.2"><path d="M0 7.15 H47.6 M0 14.9 H47.6"/><path d="M6.70 0 L2.30 21.4 M13.40 0 L9.00 21.4 M22.50 0 L18.10 21.4 M29.20 0 L24.80 21.4 M38.30 0 L33.90 21.4 M45.00 0 L40.60 21.4 "/></g>
<g transform="translate(584.08,1063.62)" fill="none" stroke="#0000ff" stroke-width="2.7" stroke-linejoin="round"><path transform="translate(0.00,0)" d="M17.6 24.3 L7.6 12.4 C5.4 10.0 4.3 8.7 4.3 6.9 C4.3 4.9 6.0 3.85 8.45 3.85 C10.9 3.85 12.6 5.0 12.6 7.0 C12.6 9.1 10.7 10.6 8.3 11.9 C4.6 14.0 1.9 16.3 1.9 19.3 C1.9 22.2 4.3 24.0 7.6 24.0 C10.4 24.0 12.8 22.6 14.2 20.4 L15.8 14.5"/><path transform="translate(19.90,0)" d="M17.6 24.3 L7.6 12.4 C5.4 10.0 4.3 8.7 4.3 6.9 C4.3 4.9 6.0 3.85 8.45 3.85 C10.9 3.85 12.6 5.0 12.6 7.0 C12.6 9.1 10.7 10.6 8.3 11.9 C4.6 14.0 1.9 16.3 1.9 19.3 C1.9 22.2 4.3 24.0 7.6 24.0 C10.4 24.0 12.8 22.6 14.2 20.4 L15.8 14.5"/><path transform="translate(39.80,0)" d="M17.6 24.3 L7.6 12.4 C5.4 10.0 4.3 8.7 4.3 6.9 C4.3 4.9 6.0 3.85 8.45 3.85 C10.9 3.85 12.6 5.0 12.6 7.0 C12.6 9.1 10.7 10.6 8.3 11.9 C4.6 14.0 1.9 16.3 1.9 19.3 C1.9 22.2 4.3 24.0 7.6 24.0 C10.4 24.0 12.8 22.6 14.2 20.4 L15.8 14.5"/></g>
<g transform="translate(370.75,1097.60)" fill="none" stroke="#0000ff" stroke-width="2.2"><path d="M0 7.15 H47.6 M0 14.9 H47.6"/><path d="M6.70 0 L2.30 21.4 M13.40 0 L9.00 21.4 M22.50 0 L18.10 21.4 M29.20 0 L24.80 21.4 M38.30 0 L33.90 21.4 M45.00 0 L40.60 21.4 "/></g>
<g transform="translate(366.82,1123.37)" fill="none" stroke="#0000ff" stroke-width="2.7" stroke-linejoin="round"><path transform="translate(0.00,0)" d="M17.6 24.3 L7.6 12.4 C5.4 10.0 4.3 8.7 4.3 6.9 C4.3 4.9 6.0 3.85 8.45 3.85 C10.9 3.85 12.6 5.0 12.6 7.0 C12.6 9.1 10.7 10.6 8.3 11.9 C4.6 14.0 1.9 16.3 1.9 19.3 C1.9 22.2 4.3 24.0 7.6 24.0 C10.4 24.0 12.8 22.6 14.2 20.4 L15.8 14.5"/><path transform="translate(19.90,0)" d="M17.6 24.3 L7.6 12.4 C5.4 10.0 4.3 8.7 4.3 6.9 C4.3 4.9 6.0 3.85 8.45 3.85 C10.9 3.85 12.6 5.0 12.6 7.0 C12.6 9.1 10.7 10.6 8.3 11.9 C4.6 14.0 1.9 16.3 1.9 19.3 C1.9 22.2 4.3 24.0 7.6 24.0 C10.4 24.0 12.8 22.6 14.2 20.4 L15.8 14.5"/><path transform="translate(39.80,0)" d="M17.6 24.3 L7.6 12.4 C5.4 10.0 4.3 8.7 4.3 6.9 C4.3 4.9 6.0 3.85 8.45 3.85 C10.9 3.85 12.6 5.0 12.6 7.0 C12.6 9.1 10.7 10.6 8.3 11.9 C4.6 14.0 1.9 16.3 1.9 19.3 C1.9 22.2 4.3 24.0 7.6 24.0 C10.4 24.0 12.8 22.6 14.2 20.4 L15.8 14.5"/></g>
<g transform="translate(612.08,1125.12)" fill="none" stroke="#ff0000" stroke-width="2.7" stroke-linejoin="round"><path transform="translate(0.00,0)" d="M17.6 24.3 L7.6 12.4 C5.4 10.0 4.3 8.7 4.3 6.9 C4.3 4.9 6.0 3.85 8.45 3.85 C10.9 3.85 12.6 5.0 12.6 7.0 C12.6 9.1 10.7 10.6 8.3 11.9 C4.6 14.0 1.9 16.3 1.9 19.3 C1.9 22.2 4.3 24.0 7.6 24.0 C10.4 24.0 12.8 22.6 14.2 20.4 L15.8 14.5"/><path transform="translate(19.90,0)" d="M17.6 24.3 L7.6 12.4 C5.4 10.0 4.3 8.7 4.3 6.9 C4.3 4.9 6.0 3.85 8.45 3.85 C10.9 3.85 12.6 5.0 12.6 7.0 C12.6 9.1 10.7 10.6 8.3 11.9 C4.6 14.0 1.9 16.3 1.9 19.3 C1.9 22.2 4.3 24.0 7.6 24.0 C10.4 24.0 12.8 22.6 14.2 20.4 L15.8 14.5"/><path transform="translate(39.80,0)" d="M17.6 24.3 L7.6 12.4 C5.4 10.0 4.3 8.7 4.3 6.9 C4.3 4.9 6.0 3.85 8.45 3.85 C10.9 3.85 12.6 5.0 12.6 7.0 C12.6 9.1 10.7 10.6 8.3 11.9 C4.6 14.0 1.9 16.3 1.9 19.3 C1.9 22.2 4.3 24.0 7.6 24.0 C10.4 24.0 12.8 22.6 14.2 20.4 L15.8 14.5"/></g>
<g transform="translate(844.85,804.55)" fill="none" stroke="#ff0000" stroke-width="2.2"><path d="M0 7.15 H47.6 M0 14.9 H47.6"/><path d="M6.70 0 L2.30 21.4 M13.40 0 L9.00 21.4 M22.50 0 L18.10 21.4 M29.20 0 L24.80 21.4 M38.30 0 L33.90 21.4 M45.00 0 L40.60 21.4 "/></g>
<g transform="translate(842.60,833.50)" fill="none" stroke="#ff0000" stroke-width="2.5"><path transform="translate(0.00,0)" d="M12.6 5.8 C12.2 3.6 10.4 2.6 8.1 2.6 C5.4 2.6 3.6 4.0 3.6 6.0 C3.6 7.6 4.8 8.6 6.6 9.6 L11.6 12.6 C13.3 13.6 14.0 14.8 14.0 16.3 C14.0 18.0 12.8 19.3 11.2 19.9 M5.0 9.9 C3.1 10.8 2.1 12.0 2.1 13.5 C2.1 15.0 3.3 16.2 5.4 17.4 L10.0 20.1 C12.0 21.3 12.9 22.4 12.9 24.1 C12.9 26.4 10.9 27.7 8.3 27.7 C5.6 27.7 3.8 26.5 3.2 24.3"/><path transform="translate(15.75,0)" d="M12.6 5.8 C12.2 3.6 10.4 2.6 8.1 2.6 C5.4 2.6 3.6 4.0 3.6 6.0 C3.6 7.6 4.8 8.6 6.6 9.6 L11.6 12.6 C13.3 13.6 14.0 14.8 14.0 16.3 C14.0 18.0 12.8 19.3 11.2 19.9 M5.0 9.9 C3.1 10.8 2.1 12.0 2.1 13.5 C2.1 15.0 3.3 16.2 5.4 17.4 L10.0 20.1 C12.0 21.3 12.9 22.4 12.9 24.1 C12.9 26.4 10.9 27.7 8.3 27.7 C5.6 27.7 3.8 26.5 3.2 24.3"/><path transform="translate(31.50,0)" d="M12.6 5.8 C12.2 3.6 10.4 2.6 8.1 2.6 C5.4 2.6 3.6 4.0 3.6 6.0 C3.6 7.6 4.8 8.6 6.6 9.6 L11.6 12.6 C13.3 13.6 14.0 14.8 14.0 16.3 C14.0 18.0 12.8 19.3 11.2 19.9 M5.0 9.9 C3.1 10.8 2.1 12.0 2.1 13.5 C2.1 15.0 3.3 16.2 5.4 17.4 L10.0 20.1 C12.0 21.3 12.9 22.4 12.9 24.1 C12.9 26.4 10.9 27.7 8.3 27.7 C5.6 27.7 3.8 26.5 3.2 24.3"/></g>
<g transform="translate(815.20,872.00)" fill="none" stroke="#0000ff" stroke-width="2.2"><path d="M0 7.15 H47.6 M0 14.9 H47.6"/><path d="M6.70 0 L2.30 21.4 M13.40 0 L9.00 21.4 M22.50 0 L18.10 21.4 M29.20 0 L24.80 21.4 M38.30 0 L33.90 21.4 M45.00 0 L40.60 21.4 "/></g>
<g transform="translate(815.15,907.45)" fill="none" stroke="#0000ff" stroke-width="2.5"><path transform="translate(0.00,0)" d="M12.6 5.8 C12.2 3.6 10.4 2.6 8.1 2.6 C5.4 2.6 3.6 4.0 3.6 6.0 C3.6 7.6 4.8 8.6 6.6 9.6 L11.6 12.6 C13.3 13.6 14.0 14.8 14.0 16.3 C14.0 18.0 12.8 19.3 11.2 19.9 M5.0 9.9 C3.1 10.8 2.1 12.0 2.1 13.5 C2.1 15.0 3.3 16.2 5.4 17.4 L10.0 20.1 C12.0 21.3 12.9 22.4 12.9 24.1 C12.9 26.4 10.9 27.7 8.3 27.7 C5.6 27.7 3.8 26.5 3.2 24.3"/><path transform="translate(15.75,0)" d="M12.6 5.8 C12.2 3.6 10.4 2.6 8.1 2.6 C5.4 2.6 3.6 4.0 3.6 6.0 C3.6 7.6 4.8 8.6 6.6 9.6 L11.6 12.6 C13.3 13.6 14.0 14.8 14.0 16.3 C14.0 18.0 12.8 19.3 11.2 19.9 M5.0 9.9 C3.1 10.8 2.1 12.0 2.1 13.5 C2.1 15.0 3.3 16.2 5.4 17.4 L10.0 20.1 C12.0 21.3 12.9 22.4 12.9 24.1 C12.9 26.4 10.9 27.7 8.3 27.7 C5.6 27.7 3.8 26.5 3.2 24.3"/><path transform="translate(31.50,0)" d="M12.6 5.8 C12.2 3.6 10.4 2.6 8.1 2.6 C5.4 2.6 3.6 4.0 3.6 6.0 C3.6 7.6 4.8 8.6 6.6 9.6 L11.6 12.6 C13.3 13.6 14.0 14.8 14.0 16.3 C14.0 18.0 12.8 19.3 11.2 19.9 M5.0 9.9 C3.1 10.8 2.1 12.0 2.1 13.5 C2.1 15.0 3.3 16.2 5.4 17.4 L10.0 20.1 C12.0 21.3 12.9 22.4 12.9 24.1 C12.9 26.4 10.9 27.7 8.3 27.7 C5.6 27.7 3.8 26.5 3.2 24.3"/></g>
<g transform="translate(1054.88,956.88)" fill="none" stroke="#ff0000" stroke-width="2.7" stroke-linejoin="round"><path transform="translate(0.00,0)" d="M17.6 24.3 L7.6 12.4 C5.4 10.0 4.3 8.7 4.3 6.9 C4.3 4.9 6.0 3.85 8.45 3.85 C10.9 3.85 12.6 5.0 12.6 7.0 C12.6 9.1 10.7 10.6 8.3 11.9 C4.6 14.0 1.9 16.3 1.9 19.3 C1.9 22.2 4.3 24.0 7.6 24.0 C10.4 24.0 12.8 22.6 14.2 20.4 L15.8 14.5"/><path transform="translate(19.90,0)" d="M17.6 24.3 L7.6 12.4 C5.4 10.0 4.3 8.7 4.3 6.9 C4.3 4.9 6.0 3.85 8.45 3.85 C10.9 3.85 12.6 5.0 12.6 7.0 C12.6 9.1 10.7 10.6 8.3 11.9 C4.6 14.0 1.9 16.3 1.9 19.3 C1.9 22.2 4.3 24.0 7.6 24.0 C10.4 24.0 12.8 22.6 14.2 20.4 L15.8 14.5"/><path transform="translate(39.80,0)" d="M17.6 24.3 L7.6 12.4 C5.4 10.0 4.3 8.7 4.3 6.9 C4.3 4.9 6.0 3.85 8.45 3.85 C10.9 3.85 12.6 5.0 12.6 7.0 C12.6 9.1 10.7 10.6 8.3 11.9 C4.6 14.0 1.9 16.3 1.9 19.3 C1.9 22.2 4.3 24.0 7.6 24.0 C10.4 24.0 12.8 22.6 14.2 20.4 L15.8 14.5"/></g>
<path d="M1064.05 1002.31 l0 -7.9 M1064.05 1002.31 l-7.3 -2.25 M1064.05 1002.31 l7.3 -2.25 M1064.05 1002.31 l-4.4 6.3 M1064.05 1002.31 l4.4 6.3 M1081.85 1002.31 l0 -7.9 M1081.85 1002.31 l-7.3 -2.25 M1081.85 1002.31 l7.3 -2.25 M1081.85 1002.31 l-4.4 6.3 M1081.85 1002.31 l4.4 6.3 M1099.65 1002.31 l0 -7.9 M1099.65 1002.31 l-7.3 -2.25 M1099.65 1002.31 l7.3 -2.25 M1099.65 1002.31 l-4.4 6.3 M1099.65 1002.31 l4.4 6.3 " fill="none" stroke="#ff0000" stroke-width="3.0" stroke-linecap="butt"/>
<g transform="translate(1055.25,1026.40)" fill="none" stroke="#ff0000" stroke-width="2.2"><path d="M0 7.15 H47.6 M0 14.9 H47.6"/><path d="M6.70 0 L2.30 21.4 M13.40 0 L9.00 21.4 M22.50 0 L18.10 21.4 M29.20 0 L24.80 21.4 M38.30 0 L33.90 21.4 M45.00 0 L40.60 21.4 "/></g>
<path d="M1195.70 1050.26 l0 -7.9 M1195.70 1050.26 l-7.3 -2.25 M1195.70 1050.26 l7.3 -2.25 M1195.70 1050.26 l-4.4 6.3 M1195.70 1050.26 l4.4 6.3 M1213.50 1050.26 l0 -7.9 M1213.50 1050.26 l-7.3 -2.25 M1213.50 1050.26 l7.3 -2.25 M1213.50 1050.26 l-4.4 6.3 M1213.50 1050.26 l4.4 6.3 M1231.30 1050.26 l0 -7.9 M1231.30 1050.26 l-7.3 -2.25 M1231.30 1050.26 l7.3 -2.25 M1231.30 1050.26 l-4.4 6.3 M1231.30 1050.26 l4.4 6.3 " fill="none" stroke="#ff0000" stroke-width="3.0" stroke-linecap="butt"/>
<g transform="translate(1185.62,1068.12)" fill="none" stroke="#ff0000" stroke-width="2.7" stroke-linejoin="round"><path transform="translate(0.00,0)" d="M17.6 24.3 L7.6 12.4 C5.4 10.0 4.3 8.7 4.3 6.9 C4.3 4.9 6.0 3.85 8.45 3.85 C10.9 3.85 12.6 5.0 12.6 7.0 C12.6 9.1 10.7 10.6 8.3 11.9 C4.6 14.0 1.9 16.3 1.9 19.3 C1.9 22.2 4.3 24.0 7.6 24.0 C10.4 24.0 12.8 22.6 14.2 20.4 L15.8 14.5"/><path transform="translate(19.90,0)" d="M17.6 24.3 L7.6 12.4 C5.4 10.0 4.3 8.7 4.3 6.9 C4.3 4.9 6.0 3.85 8.45 3.85 C10.9 3.85 12.6 5.0 12.6 7.0 C12.6 9.1 10.7 10.6 8.3 11.9 C4.6 14.0 1.9 16.3 1.9 19.3 C1.9 22.2 4.3 24.0 7.6 24.0 C10.4 24.0 12.8 22.6 14.2 20.4 L15.8 14.5"/><path transform="translate(39.80,0)" d="M17.6 24.3 L7.6 12.4 C5.4 10.0 4.3 8.7 4.3 6.9 C4.3 4.9 6.0 3.85 8.45 3.85 C10.9 3.85 12.6 5.0 12.6 7.0 C12.6 9.1 10.7 10.6 8.3 11.9 C4.6 14.0 1.9 16.3 1.9 19.3 C1.9 22.2 4.3 24.0 7.6 24.0 C10.4 24.0 12.8 22.6 14.2 20.4 L15.8 14.5"/></g>
<g transform="translate(992.00,1120.85)" fill="none" stroke="#0000ff" stroke-width="2.5"><path transform="translate(0.00,0)" d="M12.6 5.8 C12.2 3.6 10.4 2.6 8.1 2.6 C5.4 2.6 3.6 4.0 3.6 6.0 C3.6 7.6 4.8 8.6 6.6 9.6 L11.6 12.6 C13.3 13.6 14.0 14.8 14.0 16.3 C14.0 18.0 12.8 19.3 11.2 19.9 M5.0 9.9 C3.1 10.8 2.1 12.0 2.1 13.5 C2.1 15.0 3.3 16.2 5.4 17.4 L10.0 20.1 C12.0 21.3 12.9 22.4 12.9 24.1 C12.9 26.4 10.9 27.7 8.3 27.7 C5.6 27.7 3.8 26.5 3.2 24.3"/></g>
<g transform="translate(996.03,1161.57)" fill="none" stroke="#0000ff" stroke-width="2.7" stroke-linejoin="round"><path transform="translate(0.00,0)" d="M17.6 24.3 L7.6 12.4 C5.4 10.0 4.3 8.7 4.3 6.9 C4.3 4.9 6.0 3.85 8.45 3.85 C10.9 3.85 12.6 5.0 12.6 7.0 C12.6 9.1 10.7 10.6 8.3 11.9 C4.6 14.0 1.9 16.3 1.9 19.3 C1.9 22.2 4.3 24.0 7.6 24.0 C10.4 24.0 12.8 22.6 14.2 20.4 L15.8 14.5"/><path transform="translate(19.90,0)" d="M17.6 24.3 L7.6 12.4 C5.4 10.0 4.3 8.7 4.3 6.9 C4.3 4.9 6.0 3.85 8.45 3.85 C10.9 3.85 12.6 5.0 12.6 7.0 C12.6 9.1 10.7 10.6 8.3 11.9 C4.6 14.0 1.9 16.3 1.9 19.3 C1.9 22.2 4.3 24.0 7.6 24.0 C10.4 24.0 12.8 22.6 14.2 20.4 L15.8 14.5"/><path transform="translate(39.80,0)" d="M17.6 24.3 L7.6 12.4 C5.4 10.0 4.3 8.7 4.3 6.9 C4.3 4.9 6.0 3.85 8.45 3.85 C10.9 3.85 12.6 5.0 12.6 7.0 C12.6 9.1 10.7 10.6 8.3 11.9 C4.6 14.0 1.9 16.3 1.9 19.3 C1.9 22.2 4.3 24.0 7.6 24.0 C10.4 24.0 12.8 22.6 14.2 20.4 L15.8 14.5"/></g>
<g transform="translate(1187.65,1159.15)" fill="none" stroke="#0000ff" stroke-width="2.5"><path transform="translate(0.00,0)" d="M12.6 5.8 C12.2 3.6 10.4 2.6 8.1 2.6 C5.4 2.6 3.6 4.0 3.6 6.0 C3.6 7.6 4.8 8.6 6.6 9.6 L11.6 12.6 C13.3 13.6 14.0 14.8 14.0 16.3 C14.0 18.0 12.8 19.3 11.2 19.9 M5.0 9.9 C3.1 10.8 2.1 12.0 2.1 13.5 C2.1 15.0 3.3 16.2 5.4 17.4 L10.0 20.1 C12.0 21.3 12.9 22.4 12.9 24.1 C12.9 26.4 10.9 27.7 8.3 27.7 C5.6 27.7 3.8 26.5 3.2 24.3"/><path transform="translate(15.75,0)" d="M12.6 5.8 C12.2 3.6 10.4 2.6 8.1 2.6 C5.4 2.6 3.6 4.0 3.6 6.0 C3.6 7.6 4.8 8.6 6.6 9.6 L11.6 12.6 C13.3 13.6 14.0 14.8 14.0 16.3 C14.0 18.0 12.8 19.3 11.2 19.9 M5.0 9.9 C3.1 10.8 2.1 12.0 2.1 13.5 C2.1 15.0 3.3 16.2 5.4 17.4 L10.0 20.1 C12.0 21.3 12.9 22.4 12.9 24.1 C12.9 26.4 10.9 27.7 8.3 27.7 C5.6 27.7 3.8 26.5 3.2 24.3"/><path transform="translate(31.50,0)" d="M12.6 5.8 C12.2 3.6 10.4 2.6 8.1 2.6 C5.4 2.6 3.6 4.0 3.6 6.0 C3.6 7.6 4.8 8.6 6.6 9.6 L11.6 12.6 C13.3 13.6 14.0 14.8 14.0 16.3 C14.0 18.0 12.8 19.3 11.2 19.9 M5.0 9.9 C3.1 10.8 2.1 12.0 2.1 13.5 C2.1 15.0 3.3 16.2 5.4 17.4 L10.0 20.1 C12.0 21.3 12.9 22.4 12.9 24.1 C12.9 26.4 10.9 27.7 8.3 27.7 C5.6 27.7 3.8 26.5 3.2 24.3"/></g>
<g transform="translate(1187.88,1191.72)" fill="none" stroke="#0000ff" stroke-width="2.7" stroke-linejoin="round"><path transform="translate(0.00,0)" d="M17.6 24.3 L7.6 12.4 C5.4 10.0 4.3 8.7 4.3 6.9 C4.3 4.9 6.0 3.85 8.45 3.85 C10.9 3.85 12.6 5.0 12.6 7.0 C12.6 9.1 10.7 10.6 8.3 11.9 C4.6 14.0 1.9 16.3 1.9 19.3 C1.9 22.2 4.3 24.0 7.6 24.0 C10.4 24.0 12.8 22.6 14.2 20.4 L15.8 14.5"/><path transform="translate(19.90,0)" d="M17.6 24.3 L7.6 12.4 C5.4 10.0 4.3 8.7 4.3 6.9 C4.3 4.9 6.0 3.85 8.45 3.85 C10.9 3.85 12.6 5.0 12.6 7.0 C12.6 9.1 10.7 10.6 8.3 11.9 C4.6 14.0 1.9 16.3 1.9 19.3 C1.9 22.2 4.3 24.0 7.6 24.0 C10.4 24.0 12.8 22.6 14.2 20.4 L15.8 14.5"/><path transform="translate(39.80,0)" d="M17.6 24.3 L7.6 12.4 C5.4 10.0 4.3 8.7 4.3 6.9 C4.3 4.9 6.0 3.85 8.45 3.85 C10.9 3.85 12.6 5.0 12.6 7.0 C12.6 9.1 10.7 10.6 8.3 11.9 C4.6 14.0 1.9 16.3 1.9 19.3 C1.9 22.2 4.3 24.0 7.6 24.0 C10.4 24.0 12.8 22.6 14.2 20.4 L15.8 14.5"/></g>
<rect x="1008" y="51" width="337" height="118" fill="#fff" stroke="#000" stroke-width="2.2"/>
<text transform="translate(1017.03,97.71) scale(0.9609,1.0000)" font-size="48.98" fill="#000">Factors: Levels</text>
<text transform="translate(1016.90,152.30) scale(0.9287,1.0000)" font-size="50.34" fill="#000">Sex: Male</text>
<rect x="966.2" y="739.7" width="379.3" height="117.6" fill="#fff" stroke="#000" stroke-width="2.2"/>
<text transform="translate(974.83,785.52) scale(0.9791,1.0000)" font-size="48.16" fill="#000">Factors: Levels</text>
<text transform="translate(976.48,840.32) scale(0.9895,1.0000)" font-size="47.62" fill="#000">Sex: Female</text>
<path d="M852.05 787.21 l0 -7.9 M852.05 787.21 l-7.3 -2.25 M852.05 787.21 l7.3 -2.25 M852.05 787.21 l-4.4 6.3 M852.05 787.21 l4.4 6.3 M869.85 787.21 l0 -7.9 M869.85 787.21 l-7.3 -2.25 M869.85 787.21 l7.3 -2.25 M869.85 787.21 l-4.4 6.3 M869.85 787.21 l4.4 6.3 M887.65 787.21 l0 -7.9 M887.65 787.21 l-7.3 -2.25 M887.65 787.21 l7.3 -2.25 M887.65 787.21 l-4.4 6.3 M887.65 787.21 l4.4 6.3 " fill="none" stroke="#ff0000" stroke-width="3.0" stroke-linecap="butt"/>
<g stroke="#0000ff" stroke-width="2.3" fill="none"><line x1="170.7" y1="1404.5" x2="241.7" y2="1404.5"/><line x1="170.7" y1="1426" x2="241.7" y2="1426"/><line x1="170.7" y1="1447.2" x2="241.7" y2="1447.2"/><line x1="206.2" y1="1404.5" x2="206.2" y2="1447.2"/><circle cx="207.2" cy="1426" r="9.8" stroke-width="3.9"/></g>
<g stroke="#ff0000" stroke-width="2.3" fill="none"><line x1="606.0" y1="1404.5" x2="677.0" y2="1404.5"/><line x1="606.0" y1="1426" x2="677.0" y2="1426"/><line x1="606.0" y1="1447.2" x2="677.0" y2="1447.2"/><line x1="641.5" y1="1404.5" x2="641.5" y2="1447.2"/><rect x="631.6" y="1415.9" width="19.8" height="19.8" stroke-width="3.6"/></g>
<text transform="translate(264.14,1440.60) scale(0.9615,1.0000)" font-size="49.13" fill="#000">COND: Control</text>
<g transform="translate(699.54,1440.60) scale(0.9597,1.0000)" fill="#000"><text x="0.00" y="0" font-size="49.27">COND: DR, 3G, </text><path transform="translate(364.11,0) scale(49.273)" d="M0.378 -0.712 L0.378 0 L0.288 0 L0.288 -0.556 C0.250 -0.525 0.198 -0.492 0.130 -0.458 L0.112 -0.462 L0.112 -0.522 C0.186 -0.559 0.265 -0.619 0.323 -0.712 Z"/><text x="391.52" y="0" font-size="49.27">8°C, DD</text></g>
</svg></body></html>
